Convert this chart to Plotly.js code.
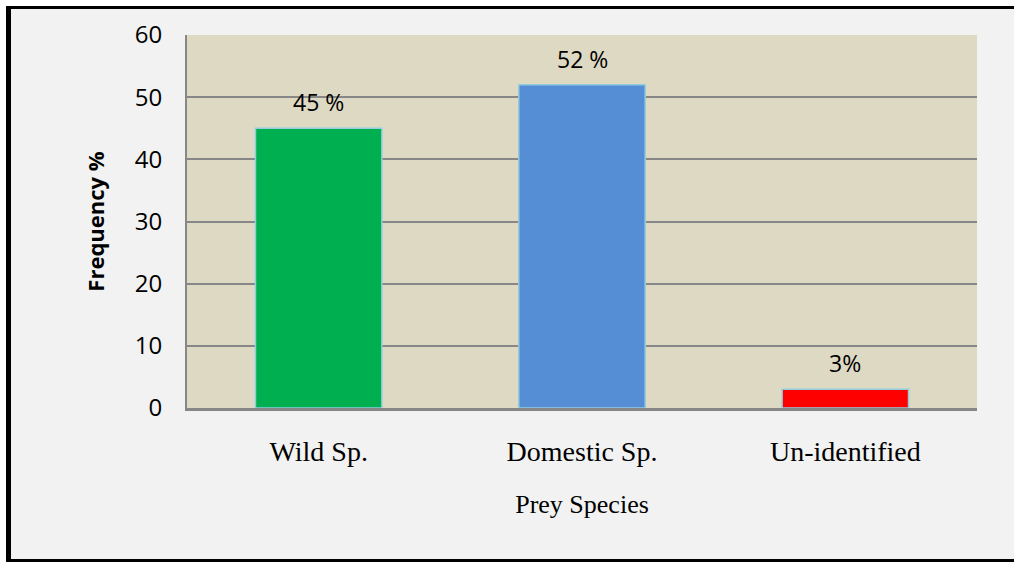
<!DOCTYPE html>
<html>
<head>
<meta charset="utf-8">
<script src="https://cdn.plot.ly/plotly-3.0.1.min.js"></script>
<style>
  html, body { margin: 0; padding: 0; background: #ffffff; }
  #chart { width: 1014px; height: 562px; }
</style>
</head>
<body>
<div id="chart"></div>
<script>
// ---- data ----
const categories = ["Wild Sp.", "Domestic Sp.", "Un-identified"];
const frequency = [45, 52, 3];
const valueLabels = ["45 %", "52 %", "3%"];
const barColors = ["#00B050", "#558ED5", "#FF0000"];
const yTicks = [0, 10, 20, 30, 40, 50, 60];
const xTitle = "Prey Species";
const yTitle = "Frequency %";

// ---- layout geometry (pixels) ----
const W = 1014, H = 562;
const L = 187, R = 977, T = 35, B = 408;
const pw = R - L, ph = B - T;
const px = v => (v - L) / pw;          // pixel x -> paper x
const py = v => (B - v) / ph;          // pixel y -> paper y

const sans = "Open Sans, Lato, sans-serif";
const serif = "Liberation Serif, Times New Roman, serif";

const trace = {
  type: "bar",
  x: categories,
  y: frequency,
  width: 0.48,
  marker: { color: barColors, line: { color: "#93CDDD", width: 1.5 } },
  hoverinfo: "x+y",
  showlegend: false
};

const annotations = categories.map((c, i) => ({
  x: c, y: frequency[i], xref: "x", yref: "y",
  text: valueLabels[i], showarrow: false,
  xanchor: "center", yanchor: "middle", yshift: 26,
  font: { family: sans, size: 23, color: "#000000" }
}));

const shapes = [
  // white outer margins
  { type: "rect", xref: "paper", yref: "paper", x0: px(0), x1: px(W), y0: py(0), y1: py(6),
    fillcolor: "#ffffff", line: { width: 0 }, layer: "below" },
  { type: "rect", xref: "paper", yref: "paper", x0: px(0), x1: px(6), y0: py(0), y1: py(H),
    fillcolor: "#ffffff", line: { width: 0 }, layer: "below" },
  // black frame
  { type: "rect", xref: "paper", yref: "paper", x0: px(6), x1: px(W), y0: py(6), y1: py(9),
    fillcolor: "#000000", line: { width: 0 }, layer: "below" },
  { type: "rect", xref: "paper", yref: "paper", x0: px(6), x1: px(11), y0: py(6), y1: py(H),
    fillcolor: "#000000", line: { width: 0 }, layer: "below" },
  { type: "rect", xref: "paper", yref: "paper", x0: px(6), x1: px(W), y0: py(559), y1: py(H),
    fillcolor: "#000000", line: { width: 0 }, layer: "below" }
];

const layout = {
  width: W, height: H,
  margin: { l: L, r: W - R, t: T, b: H - B, pad: 0 },
  paper_bgcolor: "#F2F2F2",
  plot_bgcolor: "#DDD9C3",
  bargap: 0.52,
  xaxis: {
    type: "category",
    showgrid: false,
    showline: true, linecolor: "#878787", linewidth: 2.5,
    ticks: "", ticklabelstandoff: 17,
    tickfont: { family: serif, size: 28, color: "#000000" },
    title: { text: xTitle, font: { family: serif, size: 26, color: "#000000" }, standoff: 29 },
    fixedrange: true
  },
  yaxis: {
    range: [0, 60],
    tickvals: yTicks,
    ticktext: yTicks.map(String),
    showgrid: true, gridcolor: "#878787", gridwidth: 2,
    zeroline: false,
    showline: true, linecolor: "#878787", linewidth: 2,
    ticks: "", ticklabelstandoff: 18,
    tickfont: { family: sans, size: 24, color: "#000000" },
    title: { text: yTitle, font: { family: sans, size: 22, color: "#000000", weight: "bold" }, standoff: 24 },
    fixedrange: true
  },
  shapes: shapes,
  annotations: annotations
};

Plotly.newPlot("chart", [trace], layout, { displayModeBar: false, staticPlot: true });
</script>
</body>
</html>
